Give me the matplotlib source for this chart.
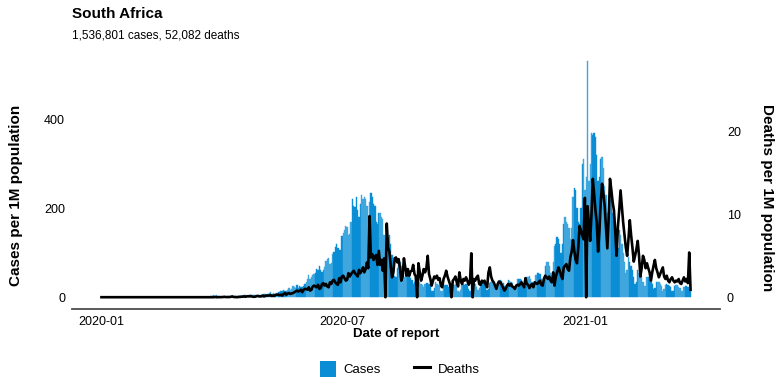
import matplotlib
matplotlib.use("Agg")
import matplotlib.pyplot as plt
import matplotlib.dates as mdates
from matplotlib.patches import Patch
from matplotlib.lines import Line2D
import pandas as pd
import numpy as np

plt.rcParams['font.family'] = ['Liberation Sans', 'DejaVu Sans']

start_date = "2020-01-01"
title = "South Africa"
subtitle = "1,536,801 cases, 52,082 deaths"
x_ticks = ["2020-01-01", "2020-07-01", "2021-01-01"]
x_tick_labels = ["2020-01", "2020-07", "2021-01"]
left_ticks = [0, 200, 400]
right_ticks = [0, 10, 20]

# Daily new cases per 1M population (2020-01-01 .. 2021-03-22)
cases_jan_mar = [0, 0, 0, 0, 0, 0, 0, 0, 0, 0, 0, 0, 0, 0, 0, 0,
                 0, 0, 0, 0, 0, 0, 0, 0, 0, 0, 0, 0, 0, 0, 0, 0,
                 0, 0, 0, 0, 0, 0, 0, 0, 0, 0, 0, 0, 0, 0, 0, 0,
                 0, 0, 0, 0, 0, 0, 0, 0, 0, 0, 0, 0, 0, 0, 0, 0]
cases_weeks = [
    [0.02, 0, 0.02, 0, 0.05, 0, 0.07],
    [0.1, 0.1, 0.2, 0.1, 0.2, 0.3, 0.6],
    [0.5, 0.9, 1.2, 1.4, 1.0, 2.2, 1.7],
    [3.9, 2.4, 4.4, 3.6, 0.8, 0.8, 1.1],
    [1.5, 1.3, 1.4, 0.7, 1.6, 0.9, 0.9],
    [1.6, 1.4, 3.0, 2.0, 2.4, 0.7, 2.0],
    [3.0, 3.0, 4.2, 4.6, 2.5, 2.1, 5.6],
    [5.4, 5.2, 5.4, 4.4, 5.3, 4.9, 5.8],
    [6.0, 5.6, 6.0, 7.0, 7.5, 6.0, 7.6],
    [9, 11, 8, 10, 7, 6, 10],
    [11, 12, 14, 13, 16, 13, 15],
    [16, 20, 17, 19, 26, 22, 20],
    [27, 21, 25, 22, 22, 26, 30],
    [35, 40, 51, 42, 45, 50, 53],
    [55, 63, 62, 70, 60, 57, 60],
    [67, 82, 86, 89, 75, 76, 98],
    [102, 112, 120, 110, 105, 106, 138],
    [145, 150, 160, 158, 140, 143, 170],
    [220, 205, 203, 225, 195, 180, 210],
    [230, 220, 225, 220, 205, 180, 215],
    [235, 225, 210, 205, 170, 165, 190],
    [190, 180, 175, 140, 110, 80, 135],
    [140, 120, 95, 70, 47, 45, 65],
    [85, 80, 70, 55, 45, 55, 65],
    [54, 50, 44, 38, 30, 34, 45],
    [43, 40, 35, 30, 27, 23, 30],
    [33, 33, 30, 28, 15, 13, 20],
    [34, 30, 27, 25, 15, 13, 23],
    [28, 28, 28, 23, 17, 15, 25],
    [28, 30, 25, 14, 12, 17, 28],
    [30, 28, 30, 25, 18, 15, 28],
    [33, 32, 30, 22, 17, 20, 32],
    [35, 35, 33, 24, 16, 18, 32],
    [35, 35, 32, 26, 17, 20, 36],
    [38, 36, 33, 25, 17, 22, 38],
    [36, 34, 32, 24, 17, 22, 40],
    [40, 40, 38, 30, 20, 25, 45],
    [45, 47, 42, 35, 25, 32, 50],
    [55, 55, 52, 40, 30, 45, 70],
    [80, 78, 70, 55, 45, 80, 115],
    [120, 135, 130, 120, 100, 120, 165],
    [180, 170, 165, 155, 130, 155, 225],
    [245, 240, 200, 170, 165, 200, 300],
    [310, 240, 270, 530, 260, 300, 370],
    [365, 370, 360, 320, 260, 270, 310],
    [315, 290, 250, 230, 190, 180, 220],
    [230, 190, 180, 140, 100, 110, 150],
    [140, 120, 100, 80, 55, 60, 90],
    [80, 70, 60, 45, 30, 35, 60],
    [55, 50, 45, 35, 25, 25, 45],
    [45, 40, 35, 30, 18, 20, 35],
    [35, 35, 30, 25, 15, 18, 28],
    [30, 28, 25, 22, 15, 15, 25],
    [28, 27, 23, 20, 13, 13, 22],
    [25, 25, 22, 18, 13],
]

# Daily new deaths per 1M population
deaths_jan_mar = [0, 0, 0, 0, 0, 0, 0, 0, 0, 0, 0, 0, 0, 0, 0, 0,
                  0, 0, 0, 0, 0, 0, 0, 0, 0, 0, 0, 0, 0, 0, 0, 0,
                  0, 0, 0, 0, 0, 0, 0, 0, 0, 0, 0, 0, 0, 0, 0, 0,
                  0, 0, 0, 0, 0, 0, 0, 0, 0, 0, 0, 0, 0, 0, 0, 0]
deaths_weeks = [
    [0, 0, 0, 0, 0, 0, 0],
    [0, 0, 0, 0, 0, 0, 0],
    [0, 0, 0, 0, 0, 0, 0],
    [0, 0.03, 0, 0, 0.02, 0, 0.02],
    [0.02, 0.05, 0.02, 0.02, 0.03, 0.02, 0.05],
    [0.1, 0.03, 0.02, 0.02, 0.0, 0.05, 0.03],
    [0.08, 0.05, 0.1, 0.05, 0.1, 0.12, 0.1],
    [0.15, 0.08, 0.05, 0.05, 0.1, 0.15, 0.12],
    [0.1, 0.1, 0.2, 0.1, 0.15, 0.2, 0.2],
    [0.2, 0.25, 0.15, 0.2, 0.15, 0.3, 0.3],
    [0.3, 0.25, 0.3, 0.2, 0.4, 0.5, 0.3],
    [0.45, 0.5, 0.4, 0.45, 0.5, 0.6, 0.7],
    [0.8, 0.7, 0.75, 0.9, 0.6, 0.9, 1.0],
    [1.0, 0.9, 1.2, 0.8, 0.9, 1.3, 1.4],
    [1.3, 1.2, 1.5, 1.0, 1.1, 1.6, 1.7],
    [1.4, 1.6, 1.3, 1.2, 1.8, 1.6, 2.0],
    [2.1, 1.8, 1.6, 1.5, 2.3, 1.8, 2.5],
    [2.6, 2.3, 2.0, 2.1, 2.9, 2.5, 2.8],
    [3.0, 3.2, 2.9, 2.7, 2.5, 3.3, 2.9],
    [3.2, 3.6, 3.0, 3.4, 4.2, 3.5, 9.8],
    [4.8, 5.2, 4.5, 4.9, 5.1, 3.9, 5.6],
    [3.9, 4.5, 3.2, 4.7, 0.0, 8.9, 6.0],
    [5.5, 3.8, 2.4, 3.0, 4.7, 4.8, 4.2],
    [4.6, 3.5, 2.0, 2.5, 4.7, 3.6, 2.6],
    [3.4, 2.6, 3.1, 3.2, 3.9, 2.8, 2.5],
    [0.0, 4.1, 3.0, 2.0, 2.6, 3.4, 3.0],
    [3.5, 5.0, 2.8, 2.2, 1.4, 2.0, 2.5],
    [2.3, 2.6, 2.1, 2.3, 1.4, 1.2, 2.2],
    [2.6, 3.2, 2.5, 2.0, 1.5, 0.0, 2.0],
    [2.2, 2.5, 1.8, 1.3, 3.0, 2.0, 1.6],
    [2.2, 2.0, 2.4, 2.0, 1.5, 1.8, 5.3],
    [0.0, 2.2, 2.0, 2.4, 2.6, 1.6, 1.5],
    [2.0, 1.8, 2.0, 1.5, 1.2, 3.0, 3.6],
    [2.5, 2.0, 1.8, 1.4, 1.0, 1.6, 1.9],
    [1.8, 1.5, 1.2, 0.8, 1.0, 1.4, 1.6],
    [1.4, 1.6, 1.3, 1.2, 1.0, 1.4, 1.5],
    [1.4, 1.6, 1.8, 1.5, 1.2, 2.3, 1.6],
    [1.5, 1.1, 1.4, 1.6, 1.2, 1.8, 1.7],
    [1.6, 1.8, 2.0, 1.5, 1.4, 2.2, 2.6],
    [2.4, 2.2, 2.5, 2.0, 1.8, 3.0, 1.4],
    [2.5, 3.0, 3.6, 3.2, 2.6, 2.2, 3.6],
    [3.8, 4.0, 3.4, 3.2, 4.8, 5.5, 6.9],
    [5.6, 4.5, 4.1, 6.0, 8.6, 8.0, 7.5],
    [7.0, 12.0, 0.0, 11.0, 9.0, 6.8, 10.0],
    [14.3, 12.5, 10.5, 9.0, 5.5, 8.0, 11.5],
    [13.7, 12.5, 11.0, 8.5, 5.9, 9.5, 14.3],
    [13.0, 11.5, 10.5, 8.0, 5.0, 8.5, 10.5],
    [12.9, 11.0, 9.0, 7.5, 6.0, 5.0, 7.0],
    [9.3, 7.5, 6.0, 4.3, 5.0, 5.8, 6.8],
    [5.0, 2.5, 3.5, 5.0, 4.5, 3.5, 4.1],
    [3.5, 3.0, 2.0, 3.0, 3.8, 4.5, 3.5],
    [3.0, 2.4, 2.8, 3.2, 3.6, 2.5, 2.2],
    [2.6, 2.0, 1.8, 2.2, 2.4, 2.0, 1.8],
    [2.0, 1.9, 2.2, 1.7, 1.6, 2.0, 2.4],
    [1.9, 2.2, 1.7, 5.4, 0.9],
]

cases = cases_jan_mar + [v for w in cases_weeks for v in w]
deaths = deaths_jan_mar + [v for w in deaths_weeks for v in w]
dates = pd.date_range(start_date, periods=len(cases))

dark_blue = "#0b8dd5"
light_blue = "#3fa7de"
week_idx = (np.arange(len(cases)) - len(cases_jan_mar)) // 7
bar_colors = [dark_blue if w % 2 == 0 else light_blue for w in week_idx]

fig = plt.figure(figsize=(7.84, 3.92), dpi=100)
W, H = 784, 392
ax = fig.add_axes([72 / W, 1 - 309 / H, (720 - 72) / W, (309 - 49.5) / H])

ax.bar(dates, cases, width=1.0, color=bar_colors, edgecolor=bar_colors,
       linewidth=0.3, align="center")
ax2 = ax.twinx()
ax2.plot(dates, deaths, color="black", lw=1.9, solid_joinstyle="round")

k = 1 / 18.6
ylo, yhi = -26.5, 556.5
ax.set_ylim(ylo, yhi)
ax2.set_ylim(ylo * k, yhi * k)

span = 22.3
ax.set_xlim(mdates.date2num(dates[0]) - span, mdates.date2num(dates[-1]) + span)

for a in (ax, ax2):
    for s in a.spines.values():
        s.set_visible(False)
ax.spines["bottom"].set_visible(True)
ax.spines["bottom"].set_color("#4d4d4d")
ax.spines["bottom"].set_linewidth(1.3)

ax.set_xticks(pd.to_datetime(x_ticks))
ax.set_xticklabels(x_tick_labels)
ax.set_yticks(left_ticks)
ax2.set_yticks(right_ticks)
ax.tick_params(axis="both", length=0, labelsize=9, colors="black")
ax.tick_params(axis="y", pad=5)
ax.tick_params(axis="x", pad=5)
ax2.tick_params(axis="y", length=0, labelsize=9, pad=5)

fig.text(72 / W, 1 - 14 / H, title, fontsize=11, fontweight="bold", va="center", ha="left")
fig.text(72 / W, 1 - 36 / H, subtitle, fontsize=8.5, va="center", ha="left")
fig.text(16 / W, 1 - 195 / H, "Cases per 1M population", rotation=90, fontsize=11,
         fontweight="bold", va="center", ha="center")
fig.text(767 / W, 1 - 198 / H, "Deaths per 1M population", rotation=270, fontsize=11,
         fontweight="bold", va="center", ha="center")
fig.text(396 / W, 1 - 334 / H, "Date of report", fontsize=9.5, fontweight="bold",
         va="center", ha="center")

handles = [Patch(facecolor=dark_blue, edgecolor="none"),
           Line2D([0], [0], color="black", lw=2.2)]
fig.legend(handles, ["Cases", "Deaths"], loc="center", bbox_to_anchor=(400 / W, 1 - 369 / H),
           ncol=2, frameon=False, fontsize=9.5, handlelength=1.2, handleheight=1.6,
           columnspacing=2.5, handletextpad=0.6)

fig.savefig("out.png", dpi=100)
